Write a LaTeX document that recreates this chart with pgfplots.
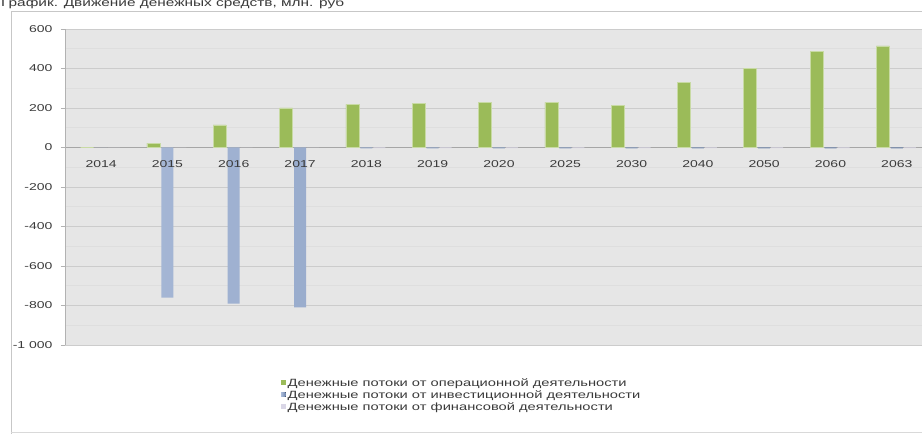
\documentclass[border=0pt]{standalone}
\usepackage{fontspec}
\setmainfont{Liberation Sans}[FakeStretch=1.4]
\usepackage{pgfplots}
\pgfplotsset{compat=1.18}
\definecolor{opgreen}{HTML}{9BBB59}
\definecolor{invblueL}{HTML}{A9BAD8}
\definecolor{invblueR}{HTML}{6E86AE}
\definecolor{finpale}{HTML}{D9D6E6}
\definecolor{plotbg}{HTML}{E6E6E6}
\definecolor{txt}{HTML}{3A3A3A}
\tikzset{lbl/.style={anchor=center, text=txt, font=\fontsize{10}{12}\selectfont, inner sep=0pt, yshift=-17pt}}
\begin{document}
\begin{tikzpicture}[x=1pt,y=1pt]
\useasboundingbox (0,0) rectangle (922,434);
\fill[white] (0,0) rectangle (922,434);
\draw[black!22, line width=0.8pt] (11,0) -- (11,423) -- (922,423);
\draw[black!15, line width=0.8pt] (11,2) -- (922,2);
\node[anchor=base west, inner sep=0pt, text=txt, font=\fontsize{11}{13}\selectfont] at (1,427) {График. Движение денежных средств, млн. руб};
\begin{axis}[
  at={(65pt,89pt)}, anchor=south west, scale only axis,
  width=857pt, height=316pt,
  xmin=-0.545, xmax=12.38, ymin=-1000, ymax=600,
  enlargelimits=false,
  axis background/.style={fill=plotbg},
  axis x line=middle, axis y line=left,
  axis line style={-, draw=black!30},
  x axis line style={draw=black!35},
  xtick={0,...,12},
  xticklabels={},
  xtick style={draw=none},
  ytick={-1000,-800,...,600},
  yticklabels={-1 000,-800,-600,-400,-200,0,200,400,600},
  yticklabel style={text=txt, font=\fontsize{10}{12}\selectfont, xshift=-5pt},
  ytick style={draw=black!30},
  tick align=outside, major tick length=4pt,
  minor ytick={-900,-700,...,500}, minor tick length=0pt,
  ymajorgrids, yminorgrids,
  major grid style={draw=black!20, line width=0.8pt},
  minor grid style={draw=black!13, line width=0.6pt},
  /pgf/number format/assume math mode=true,
  legend style={at={(0.2485,-0.092)}, anchor=north west, draw=none, fill=none,
    font=\fontsize{10.5}{12}\selectfont, text=txt, row sep=-1.3pt,
    /tikz/every even column/.append style={column sep=2pt}},
  legend cell align=left,
  legend image code/.code={\fill[#1,draw=none] (0pt,-2pt) rectangle (4.5pt,2.5pt);},
]
\addplot[ybar, bar width=13pt, bar shift=-14pt, fill=opgreen, draw=opgreen!55!white, line width=0.5pt] coordinates {
(0,0) (1,22) (2,115) (3,200) (4,218) (5,222) (6,228) (7,228) (8,212) (9,330) (10,400) (11,485) (12,515)};
\addlegendentry{Денежные потоки от операционной деятельности}
\addplot[ybar, bar width=12pt, bar shift=0pt, left color=invblueL, right color=invblueR, draw=none] coordinates {
(0,0) (1,-760) (2,-790) (3,-810) (4,-5) (5,-5) (6,-5) (7,-5) (8,-5) (9,-5) (10,-5) (11,-5) (12,-5)};
\addlegendentry{Денежные потоки от инвестиционной деятельности}
\addplot[ybar, bar width=12pt, bar shift=13pt, fill=finpale, draw=none] coordinates {
(0,0) (1,0) (2,0) (3,0) (4,-3) (5,-3) (6,-3) (7,-3) (8,-3) (9,-3) (10,-3) (11,-3) (12,-3)};
\addlegendentry{Денежные потоки от финансовой деятельности}
\node[lbl] at (axis cs:0,0) {2014};
\node[lbl] at (axis cs:1,0) {2015};
\node[lbl] at (axis cs:2,0) {2016};
\node[lbl] at (axis cs:3,0) {2017};
\node[lbl] at (axis cs:4,0) {2018};
\node[lbl] at (axis cs:5,0) {2019};
\node[lbl] at (axis cs:6,0) {2020};
\node[lbl] at (axis cs:7,0) {2025};
\node[lbl] at (axis cs:8,0) {2030};
\node[lbl] at (axis cs:9,0) {2040};
\node[lbl] at (axis cs:10,0) {2050};
\node[lbl] at (axis cs:11,0) {2060};
\node[lbl] at (axis cs:12,0) {2063};
\end{axis}
\end{tikzpicture}
\end{document}
